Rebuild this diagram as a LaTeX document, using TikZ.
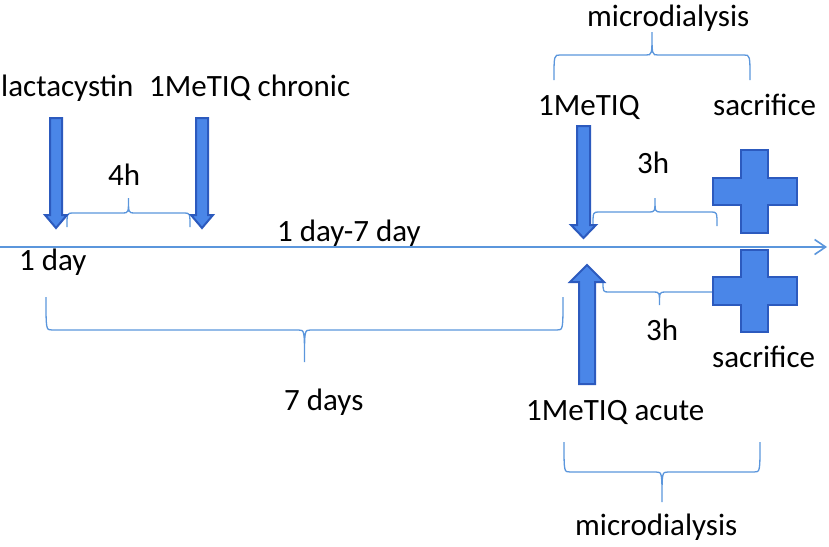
\documentclass[tikz,border=0pt]{standalone}
\usepackage{fontspec}
\setmainfont{Carlito}
\usetikzlibrary{arrows.meta}
\definecolor{linec}{RGB}{91,150,220}
\definecolor{arrfill}{RGB}{74,134,232}
\definecolor{arrdraw}{RGB}{44,90,190}
\tikzset{
  lbl/.style={anchor=base west,inner sep=0pt,font=\fontsize{31}{37}\selectfont},
  bracec/.style={draw=linec,line width=1.3pt},
  blockarr/.style={draw=arrdraw,fill=arrfill,line width=2pt,line join=miter},
  timeln/.style={draw=linec,line width=1.6pt,-{Straight Barb[length=11pt,width=15pt,line width=1.6pt]}}
}
\newcommand\mybrace[5]{% x1 x2 yend yh ytip
  \draw[bracec] (#1,#3) .. controls (#1,#4) .. ({#1+6},#4) -- ({(#1+#2)/2-6},#4)
    .. controls ({(#1+#2)/2},#4) .. ({(#1+#2)/2},#5)
    .. controls ({(#1+#2)/2},#4) .. ({(#1+#2)/2+6},#4) -- ({#2-6},#4)
    .. controls (#2,#4) .. (#2,#3);}
\begin{document}
\begin{tikzpicture}[x=1pt,y=-1pt]
\useasboundingbox (0,0) rectangle (829,546);
% timeline
\coordinate (tl0) at (0,247);
\coordinate (tl1) at (827,247);
\draw[timeln] (tl0) -- (tl1);
% braces
\mybrace{67}{190}{227}{213}{198}
\mybrace{593}{717}{226}{212}{198}
\mybrace{603}{716}{281}{292}{305}
\mybrace{46}{563}{297}{330}{362}
\mybrace{554}{750}{80}{55}{32}
\mybrace{564}{760}{442}{472}{502}
% down arrows
\draw[blockarr] (50,118) -- (62,118) -- (62,215) -- (67,215) -- (56,228) -- (45,215) -- (50,215) -- cycle;
\draw[blockarr] (196,118) -- (208,118) -- (208,215) -- (213,215) -- (202,228) -- (191,215) -- (196,215) -- cycle;
\draw[blockarr] (577,126) -- (590,126) -- (590,225) -- (596,225) -- (583.5,238) -- (571,225) -- (577,225) -- cycle;
% up arrow
\draw[blockarr] (579,384) -- (595,384) -- (595,282) -- (604,282) -- (587,265) -- (570,282) -- (579,282) -- cycle;
% crosses
\draw[blockarr] (741,150) -- (768,150) -- (768,178) -- (797,178) -- (797,205) -- (768,205) -- (768,233) -- (741,233) -- (741,205) -- (713,205) -- (713,178) -- (741,178) -- cycle;
\draw[blockarr] (741,250) -- (768,250) -- (768,277) -- (797,277) -- (797,305) -- (768,305) -- (768,332) -- (741,332) -- (741,305) -- (713,305) -- (713,277) -- (741,277) -- cycle;
% labels
\node[lbl] (lac) at (1,96) {lactacystin};
\node[lbl] (chr) at (149,96) {1MeTIQ chronic};
\node[lbl] (h4) at (108,185) {4h};
\node[lbl] (d17) at (277,241) {1 day-7 day};
\node[lbl] (d1) at (19,270) {1 day};
\node[lbl] (d7) at (284,410) {7 days};
\node[lbl] (mdt) at (587,27) {microdialysis};
\node[lbl] (met) at (538,115) {1MeTIQ};
\node[lbl] (sct) at (713,115) {sacrifice};
\node[lbl] (h3a) at (637,173) {3h};
\node[lbl] (h3b) at (646,340) {3h};
\node[lbl] (scb) at (712,367) {sacrifice};
\node[lbl] (acu) at (526,420) {1MeTIQ acute};
\node[lbl] (mdb) at (575,535) {microdialysis};
\end{tikzpicture}
\end{document}
